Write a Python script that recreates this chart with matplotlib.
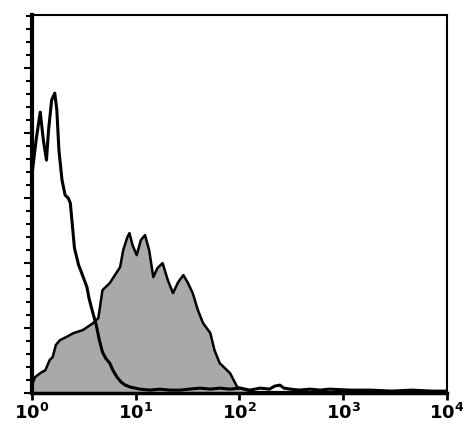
import numpy as np
import matplotlib
matplotlib.use("Agg")
import matplotlib.pyplot as plt
from matplotlib.ticker import MultipleLocator, FixedLocator

# fluorescence channel (log10 units) and event counts
open_log = [0.00, 0.04, 0.08, 0.11, 0.14, 0.16, 0.19, 0.22, 0.24, 0.26, 0.29,
            0.32, 0.35, 0.37, 0.41, 0.45, 0.48, 0.53, 0.55, 0.58, 0.62, 0.65,
            0.68, 0.71, 0.75, 0.78, 0.82, 0.86, 0.90, 0.95, 1.04, 1.14, 1.23,
            1.33, 1.43, 1.52, 1.62, 1.72, 1.81, 1.91, 2.01, 2.10, 2.20, 2.29,
            2.34, 2.39, 2.43, 2.49, 2.58, 2.68, 2.78, 2.87, 3.07, 3.27, 3.47,
            3.66, 3.86, 4.00]
open_cnt = [218, 253, 281, 253, 233, 263, 293, 300, 283, 243, 213,
            198, 195, 190, 145, 128, 120, 106, 95, 83, 68, 53,
            41, 35, 30, 23, 16, 11, 8, 6, 4, 3, 4,
            3, 3, 4, 5, 4, 5, 4, 5, 3, 5, 4,
            7, 8, 5, 4, 3, 4, 3, 4, 3, 3, 2,
            3, 2, 2]

gray_log = [0.00, 0.03, 0.08, 0.13, 0.17, 0.20, 0.23, 0.27, 0.33, 0.40, 0.49,
            0.59, 0.64, 0.68, 0.75, 0.80, 0.85, 0.88, 0.92, 0.94, 0.97, 1.01,
            1.05, 1.09, 1.13, 1.17, 1.21, 1.26, 1.31, 1.36, 1.41, 1.46, 1.50,
            1.55, 1.60, 1.65, 1.72, 1.76, 1.81, 1.91, 1.98, 2.13, 2.50, 3.00,
            3.50, 4.00]
gray_cnt = [8, 16, 20, 23, 33, 36, 48, 53, 56, 60, 63,
            70, 75, 103, 110, 118, 126, 143, 156, 160, 148, 138,
            153, 158, 143, 116, 125, 130, 113, 100, 111, 118, 111,
            100, 83, 70, 60, 43, 30, 20, 6, 1, 1, 1,
            1, 1]

xticks = [1, 10, 100, 1000, 10000]
xlabels = ["$\\mathbf{10^0}$", "$\\mathbf{10^1}$", "$\\mathbf{10^2}$",
           "$\\mathbf{10^3}$", "$\\mathbf{10^4}$"]

fig = plt.figure(figsize=(4.63, 4.32), dpi=100)
ax = fig.add_axes([0.069, 0.090, 0.896, 0.875])

gx = 10 ** np.array(gray_log)
ox = 10 ** np.array(open_log)
ax.fill_between(gx, gray_cnt, 0, color="#a9a9a9", lw=0)
ax.plot(gx, gray_cnt, color="black", lw=1.8)
ax.plot(ox, open_cnt, color="black", lw=2.2)

ax.set_xscale("log")
ax.set_xlim(1, 10000)
ax.set_ylim(0, 378)
ax.xaxis.set_major_locator(FixedLocator(xticks))
ax.xaxis.set_minor_locator(FixedLocator([]))
ax.set_xticklabels(xlabels, fontsize=13)
ax.yaxis.set_major_locator(MultipleLocator(65))
ax.yaxis.set_minor_locator(MultipleLocator(13))
ax.set_yticklabels([])
ax.tick_params(axis="y", which="major", length=6, width=1.5, direction="out")
ax.tick_params(axis="y", which="minor", length=4, width=1.5, direction="out")
ax.tick_params(axis="x", which="major", length=5, width=2, direction="out", pad=2)

ax.spines["left"].set_linewidth(3)
ax.spines["bottom"].set_linewidth(2.5)
ax.spines["top"].set_linewidth(1.5)
ax.spines["right"].set_linewidth(1.5)

fig.savefig("out.png", dpi=100)
